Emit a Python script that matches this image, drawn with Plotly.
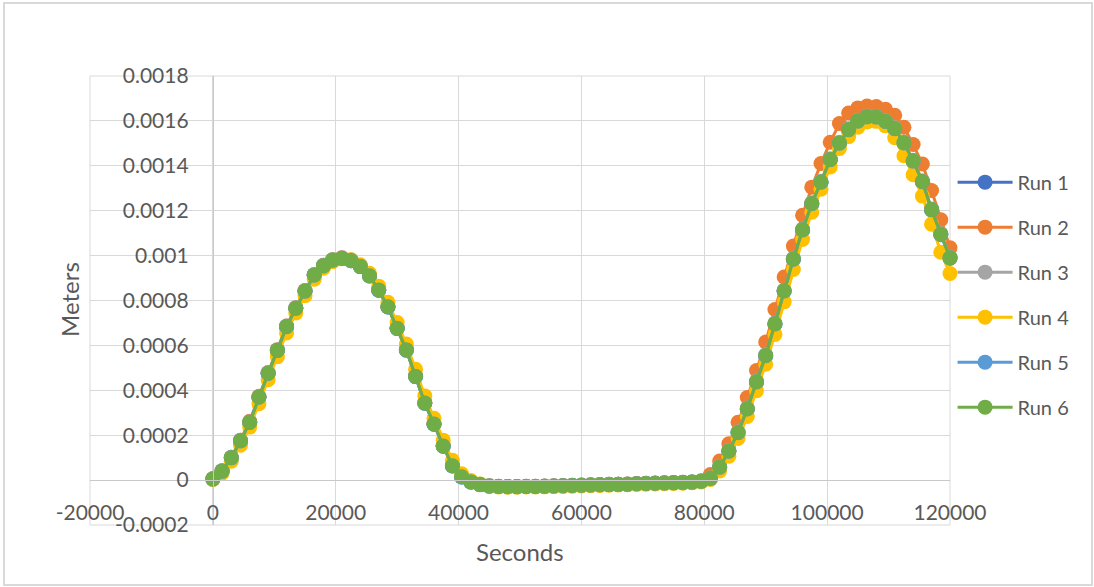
import plotly.graph_objects as go

# Sample times (s), one reading every 1500 s
seconds = list(range(0, 120001, 1500))

# Displacement per run, in micrometres
run1_um = [4, 38, 98, 173, 256, 368, 474, 577, 683, 765, 841, 913, 954, 979, 987, 977, 951, 909, 846, 771,
           675, 579, 461, 342, 249, 151, 63, 14, -9, -21, -27, -29, -30, -30, -29, -29, -28, -27, -26, -25,
           -24, -23, -22, -21, -20, -19, -17, -16, -15, -14, -13, -12, -10, -6, 6, 56, 128, 210, 316, 436,
           553, 694, 841, 983, 1113, 1230, 1326, 1426, 1500, 1560, 1598, 1617, 1616, 1596, 1564, 1501, 1420,
           1328, 1203, 1093, 988]
run2_um = [6, 42, 102, 178, 262, 373, 479, 581, 686, 768, 844, 915, 957, 982, 990, 980, 954, 912, 849, 774,
           678, 582, 465, 346, 253, 155, 67, 17, -7, -19, -25, -27, -28, -28, -27, -27, -26, -25, -24, -23,
           -22, -21, -20, -19, -18, -17, -15, -14, -13, -12, -11, -10, -8, -3, 25, 85, 162, 258, 368, 488,
           615, 760, 905, 1043, 1180, 1305, 1410, 1505, 1588, 1635, 1658, 1666, 1664, 1652, 1625, 1572, 1495,
           1408, 1290, 1160, 1035]
run3_um = [7, 42, 102, 177, 260, 372, 478, 580, 686, 768, 844, 916, 957, 982, 990, 980, 954, 912, 849, 774,
           678, 582, 464, 345, 252, 154, 66, 17, -7, -19, -25, -27, -28, -28, -27, -27, -26, -25, -24, -23,
           -22, -21, -20, -19, -18, -17, -15, -14, -13, -12, -11, -10, -8, -4, 10, 61, 133, 215, 321, 441,
           558, 699, 846, 988, 1118, 1235, 1331, 1431, 1505, 1565, 1603, 1622, 1621, 1601, 1569, 1506, 1425,
           1333, 1208, 1098, 993]
run4_um = [3, 31, 84, 155, 236, 340, 447, 550, 655, 744, 821, 895, 944, 973, 986, 981, 959, 921, 864, 792,
           702, 606, 494, 375, 275, 178, 88, 28, -2, -17, -27, -31, -32, -32, -31, -31, -30, -29, -28, -27,
           -26, -25, -24, -23, -22, -21, -19, -18, -17, -16, -15, -14, -12, -8, 3, 41, 106, 185, 283, 398,
           516, 649, 794, 938, 1072, 1193, 1296, 1395, 1477, 1530, 1572, 1595, 1598, 1578, 1525, 1445, 1360,
           1265, 1140, 1015, 920]
run5_um = [5, 39, 99, 174, 257, 369, 475, 577, 683, 765, 841, 913, 954, 979, 987, 977, 951, 909, 846, 771,
           675, 579, 461, 342, 249, 151, 63, 14, -8, -20, -26, -28, -29, -29, -28, -28, -27, -26, -25, -24,
           -23, -22, -21, -20, -19, -18, -16, -15, -14, -13, -12, -11, -9, -5, 7, 57, 129, 211, 317, 437,
           554, 695, 842, 984, 1114, 1231, 1327, 1427, 1501, 1561, 1599, 1618, 1617, 1597, 1565, 1502, 1421,
           1329, 1204, 1094, 989]
run6_um = [5, 40, 100, 175, 258, 370, 476, 578, 684, 766, 842, 914, 955, 980, 988, 978, 952, 910, 847, 772,
           676, 580, 462, 343, 250, 152, 64, 15, -8, -20, -26, -28, -29, -29, -28, -28, -27, -26, -25, -24,
           -23, -22, -21, -20, -19, -18, -16, -15, -14, -13, -12, -11, -9, -5, 8, 58, 130, 212, 318, 438,
           555, 696, 843, 985, 1115, 1232, 1328, 1428, 1502, 1562, 1600, 1619, 1618, 1598, 1566, 1503, 1422,
           1330, 1205, 1095, 990]

run_names = ["Run 1", "Run 2", "Run 3", "Run 4", "Run 5", "Run 6"]
run_colors = ["#4472C4", "#ED7D31", "#A5A5A5", "#FFC000", "#5B9BD5", "#70AD47"]

x_tickvals = [-20000, 0, 20000, 40000, 60000, 80000, 100000, 120000]
x_ticktext = ["-20000", "0", "20000", "40000", "60000", "80000", "100000", "120000"]
y_tickvals = [-0.0002, 0, 0.0002, 0.0004, 0.0006, 0.0008, 0.001, 0.0012, 0.0014, 0.0016, 0.0018]
y_ticktext = ["-0.0002", "0", "0.0002", "0.0004", "0.0006", "0.0008", "0.001", "0.0012", "0.0014",
              "0.0016", "0.0018"]

X_RANGE = [-20000, 120000]
Y_RANGE = [-0.0002, 0.0018]
TEXT = "#595959"
GRID = "#d9d9d9"
FONT = "Lato, 'Open Sans', sans-serif"

fig = go.Figure()
for name, color, vals in zip(run_names, run_colors,
                             [run1_um, run2_um, run3_um, run4_um, run5_um, run6_um]):
    fig.add_trace(go.Scatter(
        x=seconds,
        y=[v * 1e-6 for v in vals],
        name=name,
        legendgroup=name,
        mode="lines+markers",
        line=dict(color=color, width=3),
        marker=dict(color=color, size=15),
        cliponaxis=False,
    ))

# axes cross at the origin
x_cross = (0 - Y_RANGE[0]) / (Y_RANGE[1] - Y_RANGE[0])
y_cross = (0 - X_RANGE[0]) / (X_RANGE[1] - X_RANGE[0])

fig.update_layout(
    width=1094, height=587,
    margin=dict(l=90, r=144, t=76, b=62),
    paper_bgcolor="white", plot_bgcolor="white",
    font=dict(family=FONT, color=TEXT),
    showlegend=True,
    legend=dict(
        x=1.003, xanchor="left", y=0.513, yanchor="middle",
        font=dict(family=FONT, size=20, color=TEXT),
        tracegroupgap=16, itemwidth=55, bgcolor="rgba(0,0,0,0)",
    ),
    xaxis=dict(
        range=X_RANGE, tickmode="array", tickvals=x_tickvals, ticktext=x_ticktext,
        anchor="free", position=x_cross,
        showline=True, linecolor="#c8c8c8", linewidth=1,
        showgrid=True, gridcolor=GRID, gridwidth=1, zeroline=False,
        ticks="outside", ticklen=14, tickcolor="rgba(0,0,0,0)",
        tickfont=dict(family=FONT, size=21, color=TEXT),
    ),
    yaxis=dict(
        range=Y_RANGE, tickmode="array", tickvals=y_tickvals, ticktext=y_ticktext,
        anchor="free", position=y_cross,
        showline=True, linecolor="#c8c8c8", linewidth=1,
        showgrid=True, gridcolor=GRID, gridwidth=1, zeroline=False,
        ticks="outside", ticklen=20, tickcolor="rgba(0,0,0,0)",
        tickfont=dict(family=FONT, size=21, color=TEXT),
    ),
    shapes=[
        # plot area frame
        dict(type="rect", xref="paper", yref="paper", x0=0, x1=1, y0=0, y1=1,
             line=dict(color=GRID, width=1), layer="below"),
        # chart area border
        dict(type="rect", xref="paper", yref="paper",
             x0=(4 - 90) / 860, x1=(1092 - 90) / 860,
             y0=(525 - 585) / 449, y1=(525 - 3) / 449,
             line=dict(color=GRID, width=2), layer="below"),
    ],
    annotations=[
        dict(text="Seconds", xref="paper", yref="paper", x=0.5, y=(525 - 551) / 449,
             showarrow=False, font=dict(family=FONT, size=24, color=TEXT),
             xanchor="center", yanchor="middle"),
        dict(text="Meters", xref="paper", yref="paper", x=(69 - 90) / 860, y=(525 - 300) / 449,
             showarrow=False, textangle=-90, font=dict(family=FONT, size=24, color=TEXT),
             xanchor="center", yanchor="middle"),
    ],
)

fig.write_html("out.html")
